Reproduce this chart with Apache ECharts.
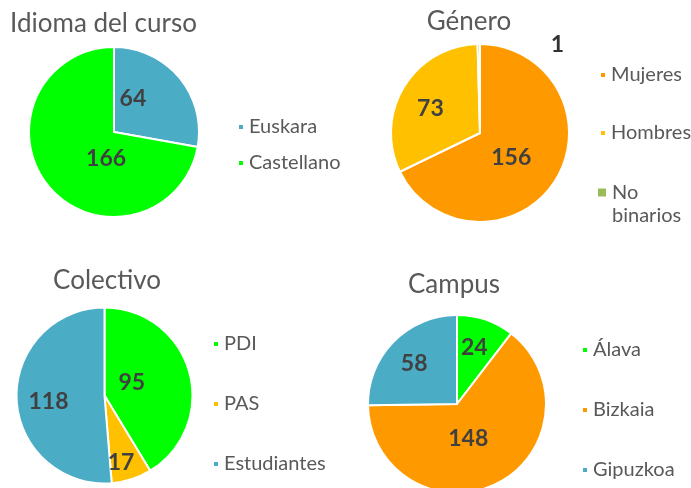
<!DOCTYPE html>
<html>
<head>
<meta charset="utf-8">
<script src="https://cdn.jsdelivr.net/npm/echarts@6/dist/echarts.min.js"></script>
<style>
html,body{margin:0;padding:0;background:#fff;}
#c{width:691px;height:488px;}
</style>
</head>
<body>
<div id="c"></div>
<script>
// ---- Data ----
const titles = ['Idioma del curso', 'Género', 'Colectivo', 'Campus'];
const idiomaNames = ['Euskara', 'Castellano'];
const idiomaValues = [64, 166];
const generoNames = ['Mujeres', 'Hombres', 'No binarios'];
const generoValues = [156, 73, 1];
const colectivoNames = ['PDI', 'PAS', 'Estudiantes'];
const colectivoValues = [95, 17, 118];
const campusNames = ['Álava', 'Bizkaia', 'Gipuzkoa'];
const campusValues = [24, 148, 58];

// ---- Styling ----
const FONT = 'Lato';
const TXT = '#595959';
const LBL = '#404040';
const BLUE = '#4BACC6', GREEN = '#00FF00', ORANGE = '#FF9900', YELLOW = '#FFC000', OLIVE = '#9BBB59';

const pies = [
  { names: idiomaNames, values: idiomaValues, colors: [BLUE, GREEN],
    center: [114, 132], r: 85, offsets: [[-16, -4], [27, -3]] },
  { names: generoNames, values: generoValues, colors: [ORANGE, YELLOW, OLIVE],
    center: [480, 133], r: 89, offsets: [[-9, -1], [-9, 0], [78, -41]] },
  { names: colectivoNames, values: colectivoValues, colors: [GREEN, YELLOW, BLUE],
    center: [104.5, 395.5], r: 88, offsets: [[-18, 0], [2, 22], [-9, 4]] },
  { names: campusNames, values: campusValues, colors: [GREEN, ORANGE, BLUE],
    center: [457, 404], r: 89, offsets: [[2, -11], [-10, -8], [-9, -7]] }
];

const titlePos = [[103.5, 23.5], [469, 21.5], [107, 280.5], [454, 284.5]];

const series = pies.map((p, i) => ({
  type: 'pie',
  center: p.center,
  radius: [0, p.r],
  startAngle: 90,
  clockwise: true,
  avoidLabelOverlap: false,
  animation: false,
  labelLine: { show: false },
  itemStyle: { borderColor: '#fff', borderWidth: 2 },
  emphasis: { disabled: true },
  data: p.names.map((n, j) => ({
    name: n,
    value: p.values[j],
    itemStyle: { color: p.colors[j] },
    label: {
      show: true,
      position: 'inside',
      formatter: '{c}',
      fontFamily: FONT,
      fontWeight: 'bold',
      fontSize: 23,
      color: (i === 1 && j === 2) ? '#333333' : LBL,
      offset: p.offsets[j]
    }
  }))
}));

const legendBase = {
  orient: 'vertical',
  icon: 'rect',
  itemWidth: 6,
  itemHeight: 6,
  textStyle: { fontFamily: FONT, fontSize: 20, color: TXT, lineHeight: 24 },
  padding: 0,
  selectedMode: false
};

const legends = [
  Object.assign({}, legendBase, { left: 237, top: 115, itemGap: 12, data: idiomaNames }),
  Object.assign({}, legendBase, { left: 599, top: 63, itemGap: 34, data: ['Mujeres', 'Hombres'] }),
  Object.assign({}, legendBase, { left: 596, top: 158, itemWidth: 10, itemHeight: 10,
    textStyle: { fontFamily: FONT, fontSize: 20, color: TXT, lineHeight: 23 },
    formatter: () => '\nNo\nbinarios', data: ['No binarios'] }),
  Object.assign({}, legendBase, { left: 212, top: 332, itemGap: 36, data: colectivoNames }),
  Object.assign({}, legendBase, { left: 581, top: 338, itemGap: 36, data: campusNames })
];

const titleComps = titles.map((t, i) => ({
  text: t,
  left: titlePos[i][0],
  top: titlePos[i][1] - 15,
  textAlign: 'center',
  padding: 0,
  textStyle: { fontFamily: FONT, fontSize: 26, fontWeight: 'normal', color: TXT, lineHeight: 30 }
}));

const chart = echarts.init(document.getElementById('c'), null, { renderer: 'canvas' });
chart.setOption({
  backgroundColor: '#ffffff',
  animation: false,
  title: titleComps,
  legend: legends,
  series: series
});
</script>
</body>
</html>
